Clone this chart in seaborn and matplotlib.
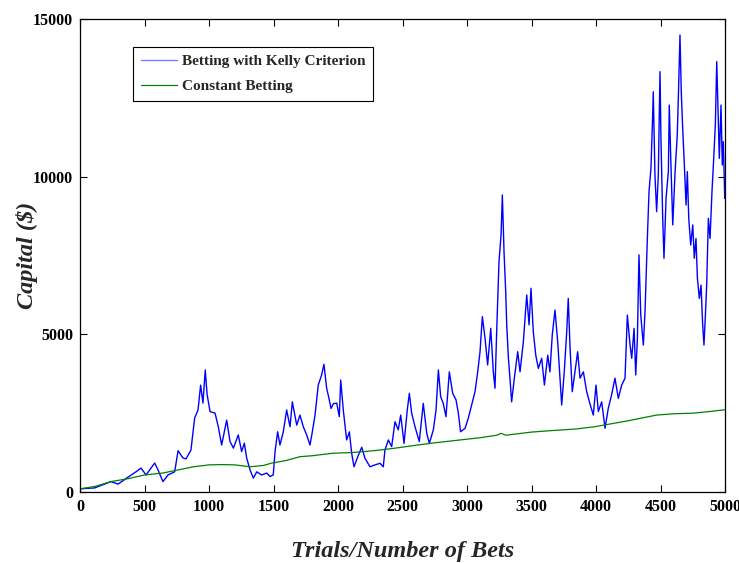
import matplotlib
matplotlib.use("Agg")
import matplotlib.pyplot as plt
import seaborn as sns
import pandas as pd

# Kelly-criterion bankroll path (trial number, capital in $)
kelly_trials = [
    0, 114, 240, 295, 372, 434, 473, 512, 579, 605, 643, 682, 734, 760, 798, 822,
    860, 889, 915, 935, 953, 971, 985, 1008, 1047, 1072, 1098, 1137, 1163, 1189,
    1227, 1253, 1274, 1292, 1318, 1344, 1370, 1408, 1447, 1473, 1498, 1512, 1532,
    1550, 1576, 1602, 1628, 1646, 1680, 1705, 1731, 1757, 1783, 1801, 1822, 1847,
    1873, 1891, 1912, 1930, 1946, 1964, 1990, 2010, 2021, 2041, 2067, 2088, 2106,
    2124, 2158, 2184, 2209, 2248, 2287, 2326, 2351, 2364, 2390, 2416, 2442, 2467,
    2486, 2512, 2537, 2553, 2571, 2597, 2630, 2661, 2688, 2708, 2739, 2760, 2778,
    2796, 2816, 2837, 2863, 2889, 2915, 2933, 2950, 2985, 3010, 3036, 3062, 3083,
    3101, 3119, 3140, 3160, 3184, 3204, 3217, 3230, 3248, 3264, 3274, 3287, 3300,
    3308, 3321, 3333, 3346, 3367, 3393, 3411, 3437, 3463, 3481, 3496, 3514, 3533,
    3553, 3579, 3600, 3626, 3643, 3661, 3682, 3703, 3721, 3734, 3754, 3773, 3785,
    3798, 3816, 3837, 3858, 3876, 3902, 3928, 3953, 3979, 4000, 4018, 4044, 4070,
    4095, 4121, 4147, 4173, 4199, 4225, 4243, 4264, 4277, 4295, 4308, 4321, 4333,
    4347, 4367, 4380, 4398, 4411, 4426, 4437, 4444, 4457, 4470, 4483, 4496, 4504,
    4517, 4527, 4543, 4561, 4568, 4581, 4595, 4613, 4630, 4641, 4651, 4661, 4672,
    4685, 4698, 4708, 4719, 4734, 4750, 4762, 4775, 4786, 4801, 4814, 4827, 4837,
    4848, 4858, 4871, 4884, 4899, 4910, 4925, 4936, 4946, 4956, 4969, 4979, 4987,
    4998, 5000,
]
kelly_capital = [
    100, 130, 330, 250, 470, 640, 760, 540, 920, 700, 330, 540, 640, 1310, 1080, 1050,
    1330, 2350, 2600, 3390, 2820, 3870, 3100, 2550, 2500, 2070, 1490, 2280, 1600, 1390,
    1810, 1280, 1550, 1080, 700, 440, 640, 540, 600, 490, 540, 1280, 1910,
    1490, 1910, 2600, 2070, 2860, 2120, 2440, 2070, 1810, 1490, 1910, 2440, 3390,
    3710, 4050, 3290, 2970, 2650, 2800, 2820, 2390, 3550, 2600, 1650, 1910, 1230,
    800, 1170, 1420, 1070, 800, 860, 910, 800, 1330, 1650, 1440, 2230, 1970,
    2440, 1540, 2600, 3130, 2500, 2070, 1600, 2810, 1860, 1540, 1970, 2600, 3870,
    3020, 2810, 2390, 3810, 3130, 2920, 2500, 1910, 2020, 2340, 2760, 3180, 3810,
    4450, 5560, 4870, 4030, 5190, 3810, 3290, 5080, 7300, 8150, 9420, 7620, 6350,
    5300, 4240, 3610, 2860, 3610, 4450, 3810, 4770, 6250, 5300, 6460, 5080, 4340,
    3920, 4240, 3390, 4340, 3810, 4980, 5770, 4770, 3610, 2760, 3810, 5080, 6140,
    4660, 3180, 3810, 4450, 3610, 3810, 3180, 2800, 2440, 3390, 2550, 2860, 2020,
    2650, 3080, 3610, 2970, 3390, 3610, 5610, 4660, 4240, 5190, 3710, 4870, 7520,
    5610, 4660, 5720, 8040, 9520, 10270, 11640, 12690, 10050, 8890, 10050, 13330, 11110,
    8680, 7410, 9310, 10160, 12270, 10370, 8470, 10160, 11320, 12910, 14490, 12690, 11530,
    10370, 9100, 10160, 8680, 7830, 8470, 7410, 8040, 6780, 6140, 6560, 5300, 4660,
    5610, 6560, 8680, 8040, 9520, 10370, 11640, 13650, 12060, 10580, 12270, 10370, 11110,
    9310, 9800,
]

# Fixed-stake bankroll path
constant_trials = [
    0, 120, 240, 370, 500, 640, 760, 880, 1000, 1100, 1200, 1318, 1420, 1490, 1600,
    1705, 1800, 1900, 1964, 2100, 2200, 2300, 2442, 2600, 2750, 2946, 3100, 3230,
    3264, 3300, 3500, 3700, 3850, 3990, 4100, 4250, 4470, 4600, 4750, 4900, 5000,
]
constant_capital = [
    100, 180, 330, 420, 540, 600, 700, 800, 860, 870, 860, 800, 840, 920, 1000,
    1120, 1150, 1200, 1230, 1250, 1280, 1320, 1390, 1480, 1560, 1650, 1720, 1800,
    1860, 1800, 1900, 1960, 2000, 2070, 2150, 2260, 2440, 2480, 2500, 2560, 2610,
]

x_ticks = [0, 500, 1000, 1500, 2000, 2500, 3000, 3500, 4000, 4500, 5000]
y_ticks = [0, 5000, 10000, 15000]

kelly_label = "Betting with Kelly Criterion"
constant_label = "Constant Betting"

sns.set_style("white")
plt.rcParams["font.family"] = ["Liberation Serif", "DejaVu Serif"]

fig = plt.figure(figsize=(7.39, 5.63), dpi=100)
ax = fig.add_axes([80 / 739, 71 / 563, 645 / 739, 473 / 563])

kelly_df = pd.DataFrame({"trial": kelly_trials, "capital": kelly_capital})
const_df = pd.DataFrame({"trial": constant_trials, "capital": constant_capital})

sns.lineplot(data=kelly_df, x="trial", y="capital", ax=ax, color="#0000ff",
             linewidth=1.0, label=kelly_label, estimator=None, sort=False)
sns.lineplot(data=const_df, x="trial", y="capital", ax=ax, color="#008000",
             linewidth=0.9, label=constant_label, estimator=None, sort=False)

ax.set_xlim(0, 5000)
ax.set_ylim(0, 15000)
ax.set_xticks(x_ticks)
ax.set_yticks(y_ticks)
ax.set_xticklabels([str(t) for t in x_ticks])
ax.set_yticklabels([str(t) for t in y_ticks])

ax.tick_params(axis="both", which="both", direction="in", length=5, width=0.8,
               top=True, right=True, bottom=True, left=True,
               labelsize=11.5, colors="black", pad=5)
for lbl in ax.get_xticklabels() + ax.get_yticklabels():
    lbl.set_fontweight("bold")

for side in ["left", "right", "top", "bottom"]:
    ax.spines[side].set_visible(True)
    ax.spines[side].set_color("black")
    ax.spines[side].set_linewidth(0.9)

ax.set_xlabel("Trials/Number of Bets", fontsize=17.5, fontstyle="italic",
              fontweight="bold")
ax.set_ylabel("Capital ($)", fontsize=17.5, fontstyle="italic",
              fontweight="bold")
ax.xaxis.label.set_verticalalignment("center")
ax.yaxis.label.set_verticalalignment("center")
ax.xaxis.set_label_coords(0.5, (492 - 551) / 473)
ax.yaxis.set_label_coords((27 - 80) / 645, 0.5)

leg = ax.legend(loc="upper left", bbox_to_anchor=(0.082, 0.941), fancybox=False,
                frameon=True, edgecolor="black", framealpha=1, borderpad=0.5,
                borderaxespad=0, handlelength=2.4, handletextpad=0.3,
                labelspacing=0.75, prop={"size": 11, "weight": "bold"})
leg.get_frame().set_linewidth(0.8)
leg.get_lines()[0].set_color("#7f7fff")

fig.savefig("out.png", dpi=100)
